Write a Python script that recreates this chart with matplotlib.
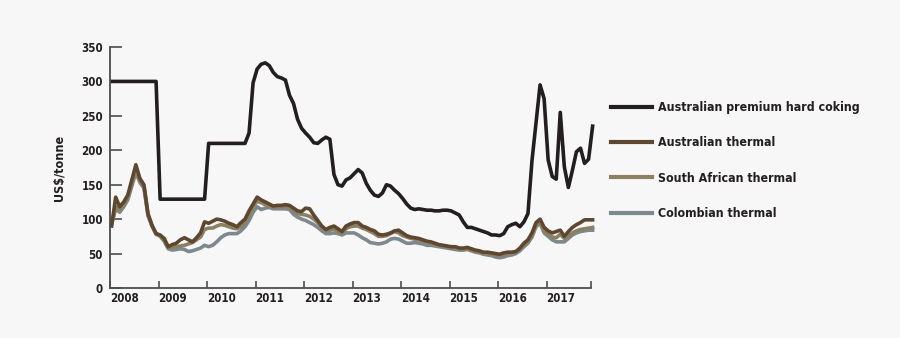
import matplotlib
matplotlib.use("Agg")
import matplotlib.pyplot as plt
from matplotlib import font_manager as fm
import numpy as np

# Monthly data, Jan 2008 - Dec 2017 (US$/tonne)
coking = [300]*12 + [129]*12 + [210]*10 + [
    225, 298, 318, 325, 327, 323, 313, 307, 305, 302,
    280, 268, 245, 232, 225, 219, 211, 210, 215, 219,
    216, 165, 150, 148, 157, 160, 166, 172, 167, 152,
    142, 135, 133, 138, 150, 148, 142, 137, 130, 122,
    116, 114, 115, 114, 113, 113, 112, 112, 113, 113,
    112, 109, 106, 96, 88, 88, 86, 84, 82, 80,
    77, 77, 76, 79, 89, 92, 94, 89, 96, 108,
    185, 240, 295, 275, 186, 162, 158, 255, 176, 146,
    171, 198, 203, 181, 187, 235]

aus_thermal = [
    90, 132, 118, 125, 135, 157, 179, 159, 150, 108, 91, 79,
    77, 72, 60, 63, 65, 70, 73, 70, 67, 73, 80, 96,
    94, 97, 100, 99, 97, 94, 92, 89, 95, 100, 112, 122,
    132, 128, 125, 122, 119, 120, 120, 121, 120, 116, 112, 111,
    116, 115, 106, 98, 90, 85, 88, 90, 86, 82, 90, 93,
    95, 95, 90, 88, 85, 83, 78, 77, 78, 80, 83, 84,
    80, 76, 74, 73, 72, 70, 68, 67, 65, 63, 62, 61,
    60, 60, 58, 58, 59, 57, 55, 54, 52, 52, 51, 50,
    49, 51, 52, 52, 53, 58, 65, 70, 80, 95, 100, 88,
    83, 80, 82, 84, 75, 82, 88, 92, 95, 99, 99, 99]

sa_thermal = [
    92, 118, 114, 120, 132, 152, 172, 155, 148, 106, 90, 79,
    76, 70, 58, 59, 60, 61, 62, 64, 66, 70, 74, 85,
    87, 87, 90, 92, 91, 89, 87, 86, 89, 95, 105, 118,
    126, 124, 121, 118, 117, 118, 118, 119, 117, 112, 108, 107,
    106, 104, 100, 95, 88, 83, 84, 86, 82, 80, 86, 89,
    90, 90, 87, 85, 82, 79, 75, 75, 76, 79, 82, 80,
    76, 74, 72, 71, 70, 68, 67, 65, 64, 62, 61, 60,
    59, 59, 57, 56, 57, 55, 53, 52, 50, 50, 49, 48,
    47, 48, 50, 51, 52, 56, 62, 67, 76, 92, 97, 82,
    78, 74, 73, 78, 72, 76, 80, 83, 85, 86, 87, 88]

col_thermal = [
    93, 115, 110, 118, 128, 148, 168, 153, 145, 105, 90, 78,
    75, 68, 57, 55, 56, 57, 56, 53, 54, 56, 58, 62,
    60, 62, 67, 73, 77, 79, 79, 79, 83, 89, 98, 110,
    118, 114, 116, 117, 115, 115, 115, 115, 114, 107, 103, 100,
    98, 95, 92, 88, 83, 79, 79, 80, 79, 77, 80, 80,
    80, 77, 73, 70, 66, 65, 64, 65, 67, 71, 72, 71,
    68, 65, 65, 66, 65, 64, 62, 62, 61, 60, 59, 58,
    57, 56, 55, 55, 56, 54, 52, 51, 49, 48, 47, 45,
    44, 45, 47, 48, 50, 54, 60, 65, 74, 89, 94, 80,
    75, 70, 67, 67, 67, 72, 77, 80, 82, 83, 84, 84]

series_names = ["Australian premium hard coking", "Australian thermal",
                "South African thermal", "Colombian thermal"]
year_labels = ["2008", "2009", "2010", "2011", "2012", "2013", "2014",
               "2015", "2016", "2017"]
y_ticks = [0, 50, 100, 150, 200, 250, 300, 350]

months = 2008 + (np.arange(len(coking)) + 0.4) / 12.0

BG = "#f7f7f7"
C_BLACK = "#231f20"
C_BROWN = "#5e4731"
C_TAN = "#8b8062"
C_GRAY = "#7d898f"
C_TEXT = "#231f20"


def pick_font():
    cands = [
        dict(family="Liberation Sans Narrow", stretch="normal"),
        dict(family="DejaVu Sans", stretch="condensed"),
    ]
    for c in cands:
        fp = fm.FontProperties(family=c["family"], stretch=c["stretch"], weight="bold")
        try:
            path = fm.findfont(fp, fallback_to_default=False)
        except Exception:
            continue
        low = path.lower()
        if "narrow" in low or "condensed" in low:
            return c["family"], c["stretch"], True
    return "Liberation Sans", "normal", False


FAM, STRETCH, CONDENSED = pick_font()
fam = [FAM, "DejaVu Sans"]
plt.rcParams["font.family"] = fam
plt.rcParams["font.stretch"] = STRETCH

scale = 1.0 if CONDENSED else 0.88

fig = plt.figure(figsize=(9, 3.38), dpi=100, facecolor=BG)
ax = fig.add_axes([110/900, 1-288/338, (591-110)/900, (288-47)/338])
ax.set_facecolor(BG)

lw = 2.6
l4, = ax.plot(months, col_thermal, color=C_GRAY, lw=lw, clip_on=False)
l3, = ax.plot(months, sa_thermal, color=C_TAN, lw=lw, clip_on=False)
l2, = ax.plot(months, aus_thermal, color=C_BROWN, lw=lw, clip_on=False)
l1, = ax.plot(months, coking, color=C_BLACK, lw=lw, clip_on=False)

ax.set_xlim(2008, 2008 + 119/12)
ax.set_ylim(0, 350)

for s in ["top", "right"]:
    ax.spines[s].set_visible(False)
for s in ["left", "bottom"]:
    ax.spines[s].set_color("#4d4d4d")
    ax.spines[s].set_linewidth(1.3)

fs_tick = 8.3 * scale
ax.set_yticks(y_ticks)
ax.set_yticklabels([str(v) for v in y_ticks], fontsize=fs_tick, fontweight="bold",
                   color=C_TEXT, fontstretch=STRETCH)
ax.tick_params(axis="y", direction="in", length=8.5, width=1.2, color="#4d4d4d", pad=5)

xt = [2008 + k for k in range(len(year_labels))] + [2008 + 119/12]
ax.set_xticks(xt)
ax.set_xticklabels(year_labels + [""], fontsize=fs_tick, fontweight="bold",
                   color=C_TEXT, ha="left", fontstretch=STRETCH)
ax.tick_params(axis="x", direction="in", length=5, width=1.2, color="#4d4d4d", pad=3)

ax.set_ylabel("US$/tonne", fontsize=9 * scale, fontweight="bold", color=C_TEXT,
              fontstretch=STRETCH)
ax.yaxis.set_label_coords((66 - 110) / 481, 0.5)

leg = fig.legend([l1, l2, l3, l4], series_names, loc="upper left",
                 bbox_to_anchor=(600/900, 1-90/338), frameon=False,
                 handlelength=3.3, handletextpad=0.5, labelspacing=1.8,
                 prop={"family": fam, "weight": "bold", "size": 8.9 * scale,
                       "stretch": STRETCH})
for h in leg.get_lines():
    h.set_linewidth(3)
for t in leg.get_texts():
    t.set_color(C_TEXT)

fig.savefig("out.png", dpi=100, facecolor=BG)
